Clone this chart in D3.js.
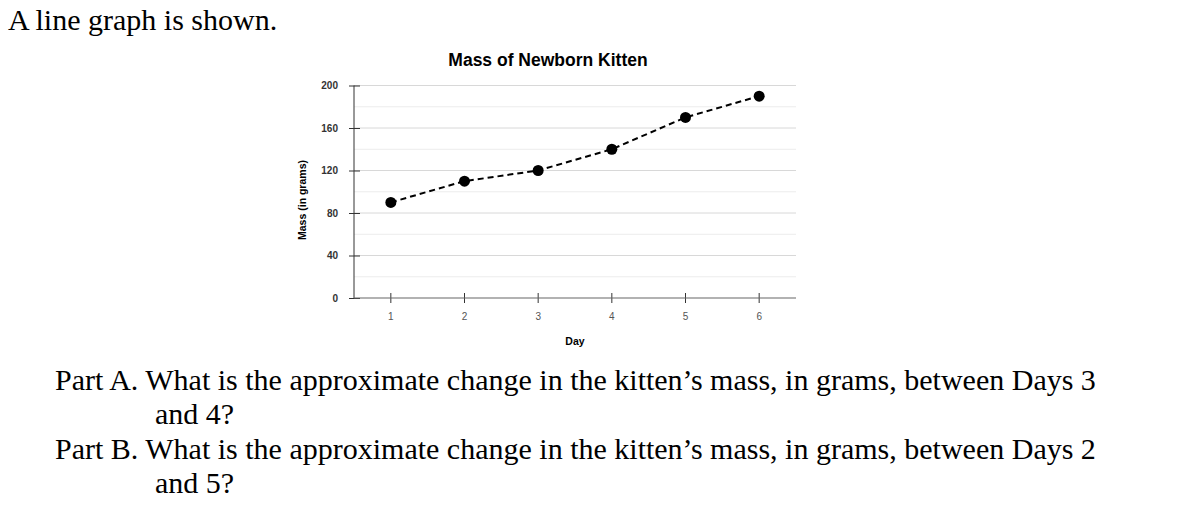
<!DOCTYPE html>
<html>
<head>
<meta charset="utf-8">
<script src="https://cdn.jsdelivr.net/npm/d3@7"></script>
<style>
	body{margin:0;background:#fff;}
	svg{display:block;}
</style>
</head>
<body>
<div id="chart"></div>
<script>
var days=["1","2","3","4","5","6"],
	mass=[90,110,120,140,170,190],
	yTicks=[0,40,80,120,160,200],
	yGrid=[20,40,60,80,100,120,140,160,180,200];

var WIDTH=1187,
	HEIGHT=529;

var plot={left:354,right:796,top:85.5,bottom:298};

var svg=d3.select("#chart")
			.append("svg")
				.attr("width",WIDTH)
				.attr("height",HEIGHT);

var xscale=d3.scaleBand()
			.domain(days)
			.range([plot.left,plot.right]);

var yscale=d3.scaleLinear()
			.domain([0,200])
			.range([plot.bottom,plot.top]);

// question text
var serif="'Liberation Serif','Times New Roman',serif";
svg.append("text")
	.attr("x",8).attr("y",30)
	.style("font-family",serif).style("font-size","30px")
	.text("A line graph is shown.");

var lines=[
	{x:55,y:390,t:"Part A. What is the approximate change in the kitten\u2019s mass, in grams, between Days 3"},
	{x:155,y:424,t:"and 4?"},
	{x:55,y:459,t:"Part B. What is the approximate change in the kitten\u2019s mass, in grams, between Days 2"},
	{x:155,y:493,t:"and 5?"}
];
svg.append("g").selectAll("text")
	.data(lines)
	.enter()
		.append("text")
			.attr("x",function(d){return d.x;})
			.attr("y",function(d){return d.y;})
			.style("font-family",serif)
			.style("font-size","30px")
			.text(function(d){return d.t;});

// gridlines
svg.append("g").selectAll("line")
	.data(yGrid)
	.enter()
		.append("line")
			.attr("x1",plot.left).attr("x2",plot.right)
			.attr("y1",function(d){return yscale(d);})
			.attr("y2",function(d){return yscale(d);})
			.style("stroke",function(d){return d%40==0?"#d8d8d8":"#ececec";})
			.style("stroke-width",1);

var sans="Arial,'Liberation Sans',sans-serif";

// y axis
var yAxis=d3.axisLeft(yscale)
			.tickValues(yTicks)
			.tickSize(6)
			.tickPadding(10);
var gy=svg.append("g")
	.attr("transform","translate("+plot.left+",0)")
	.call(yAxis);
gy.select(".domain").remove();
gy.append("line")
	.attr("x1",0).attr("x2",0)
	.attr("y1",plot.top).attr("y2",plot.bottom)
	.style("stroke","#333");
gy.selectAll(".tick line").attr("x2",6).attr("x1",-5).style("stroke","#333");
gy.selectAll(".tick text")
	.style("font-family",sans)
	.style("font-size","10px")
	.style("font-weight","bold")
	.style("fill","#333");

// x axis
var xAxis=d3.axisBottom(xscale)
			.tickSize(5)
			.tickPadding(10);
var gx=svg.append("g")
	.attr("transform","translate(0,"+plot.bottom+")")
	.call(xAxis);
gx.select(".domain").remove();
gx.append("line")
	.attr("x1",plot.left).attr("x2",plot.right)
	.style("stroke","#666").style("stroke-width",1.2);
gx.selectAll(".tick line").attr("y1",-5).attr("y2",5).style("stroke","#333");
gx.selectAll(".tick text")
	.style("font-family",sans)
	.style("font-size","10px")
	.style("fill","#555");

// titles
svg.append("text")
	.attr("x",548).attr("y",66)
	.attr("text-anchor","middle")
	.style("font-family",sans).style("font-size","17.5px").style("font-weight","bold")
	.text("Mass of Newborn Kitten");

svg.append("text")
	.attr("x",575).attr("y",345)
	.attr("text-anchor","middle")
	.style("font-family",sans).style("font-size","10.5px").style("font-weight","bold")
	.text("Day");

svg.append("text")
	.attr("transform","translate(306,200) rotate(-90)")
	.attr("text-anchor","middle")
	.style("font-family",sans).style("font-size","10.5px").style("font-weight","bold")
	.text("Mass (in grams)");

// series
var cx=function(d,i){return xscale(days[i])+xscale.bandwidth()/2;};

var line=d3.line()
	.x(cx)
	.y(function(d){return yscale(d);});

svg.append("path")
	.datum(mass)
	.attr("d",line)
	.style("fill","none")
	.style("stroke","#000")
	.style("stroke-width",2)
	.style("stroke-dasharray","6,4");

svg.append("g").selectAll("circle")
	.data(mass)
	.enter()
		.append("circle")
			.attr("cx",cx)
			.attr("cy",function(d){return yscale(d);})
			.attr("r",5.5)
			.style("fill","#000");
</script>
</body>
</html>
